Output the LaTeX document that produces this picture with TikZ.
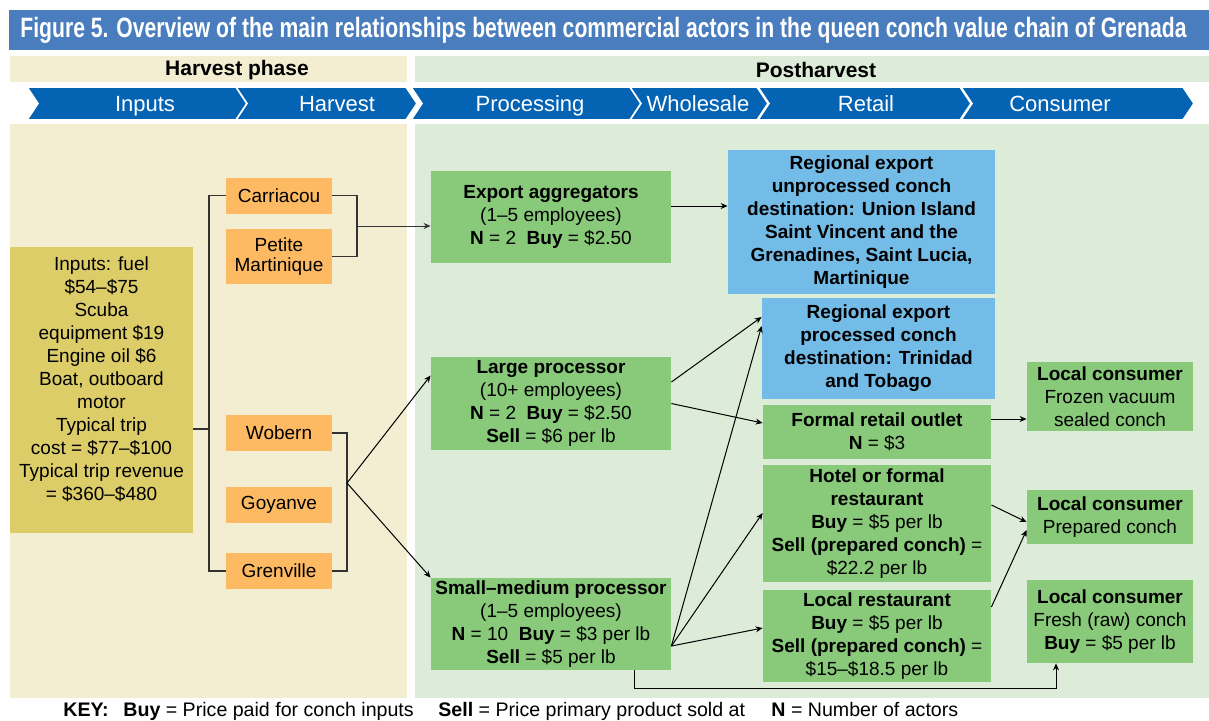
\documentclass[tikz,border=0pt]{standalone}
\usepackage{fontspec}
\setmainfont{Liberation Sans}
\newfontfamily\titlefont[FakeStretch=0.755]{Liberation Sans}
\usetikzlibrary{arrows.meta}

\definecolor{titleblue}{HTML}{4A7DBE}
\definecolor{chevblue}{HTML}{0563B4}
\definecolor{harvbg}{HTML}{F3EED2}
\definecolor{postbg}{HTML}{DCECD8}
\definecolor{inputolive}{HTML}{DCCD69}
\definecolor{siteorange}{HTML}{FDBA63}
\definecolor{actorgreen}{HTML}{88C97A}
\definecolor{exportblue}{HTML}{74BCE8}

\begin{document}
\begin{tikzpicture}[
    x=0.5pt, y=-0.5pt,
    >={Stealth[length=3.5pt,width=3pt]},
    every node/.style={font=\fontsize{9.5}{11.5}\selectfont, inner sep=0pt},
    inputbox/.style={fill=inputolive, align=center,
        minimum width=91.5pt, minimum height=143pt},
    sitebox/.style={fill=siteorange, align=center,
        minimum width=53pt, minimum height=18pt},
    procbox/.style={fill=actorgreen, align=center,
        minimum width=120pt, minimum height=46pt},
    exportbox/.style={fill=exportblue, align=center,
        font=\fontsize{9.5}{11.5}\selectfont\bfseries},
    retailbox/.style={fill=actorgreen, align=center, minimum width=114pt},
    consbox/.style={fill=actorgreen, align=center, minimum width=83pt},
    chevron/.style={fill=chevblue, draw=white, line width=0.8pt},
    bracket/.style={draw=black!80, line width=0.7pt},
    arr/.style={->, line width=0.5pt}
]
    \useasboundingbox (0,0) rectangle (1209,720);

    % Title bar
    \fill[titleblue] (9,10) rectangle (1209,50);
    \node[anchor=west, text=white,
        font=\titlefont\bfseries\fontsize{14}{16}\selectfont] (title) at (20,30)
        {Figure 5. Overview of the main relationships between commercial actors in the queen conch value chain of Grenada};

    % Phase headers
    \fill[harvbg] (10,56) rectangle (407,82);
    \fill[postbg] (415,56) rectangle (1209,82);
    \node[font=\fontsize{10.5}{12}\selectfont\bfseries] (hphase) at (237,70) {Harvest phase};
    \node[font=\fontsize{10.5}{12}\selectfont\bfseries] (pphase) at (816,70) {Postharvest};

    % Value chain stages
    \foreach \xa/\xb/\xl/\lbl [count=\i] in {27/236/145/Inputs, 236/406/337/Harvest,
        411/630/530/Processing, 630/757/698/Wholesale, 758/960/866/Retail,
        961/1183/1060/Consumer}{
        \draw[chevron] (\xa,87) -- (\xb,87) -- (\xb+11,103.5) -- (\xb,120)
            -- (\xa,120) -- (\xa+11,103.5) -- cycle;
        \node[anchor=base, text=white, font=\fontsize{11}{13}\selectfont] (stage\i)
            at (\xl,111) {\lbl};
    }

    % Panels
    \fill[harvbg] (10,124) rectangle (407,698);
    \fill[postbg] (415,124) rectangle (1209,698);

    % Harvest phase
    \node[inputbox] (inputs) at (101.5,390)
        {Inputs: fuel\\ \$54–\$75\\ Scuba\\ equipment \$19\\ Engine oil \$6\\
         Boat, outboard\\ motor\\ Typical trip\\ cost = \$77–\$100\\
         Typical trip revenue\\ = \$360–\$480\\ \mbox{}};

    \node[sitebox] (carr) at (279,195.5) {Carriacou};
    \node[sitebox, minimum height=27.5pt, font=\fontsize{9.5}{10}\selectfont] (petite)
        at (279,256.5) {Petite\\ Martinique};
    \node[sitebox] (wob) at (279,433) {Wobern};
    \node[sitebox] (goy) at (279,505) {Goyanve};
    \node[sitebox] (gren) at (279,571) {Grenville};

    % Processing
    \node[procbox] (expagg) at (551,217)
        {\textbf{Export aggregators}\\ (1–5 employees)\\
         \textbf{N} = 2\ \ \textbf{Buy} = \$2.50};
    \node[procbox, minimum height=46.5pt] (lproc) at (551,403.5)
        {\textbf{Large processor}\\ (10+ employees)\\
         \textbf{N} = 2\ \ \textbf{Buy} = \$2.50\\ \textbf{Sell} = \$6 per lb};
    \node[procbox] (smproc) at (551,624)
        {\textbf{Small–medium processor}\\ (1–5 employees)\\
         \textbf{N} = 10\ \ \textbf{Buy} = \$3 per lb\\ \textbf{Sell} = \$5 per lb};

    % Export destinations
    \node[exportbox, minimum width=133.5pt, minimum height=72pt] (unproc) at (861.5,222)
        {Regional export\\ unprocessed conch\\ destination: Union Island\\
         Saint Vincent and the\\ Grenadines, Saint Lucia,\\ Martinique};
    \node[exportbox, minimum width=116.5pt, minimum height=50.5pt] (proc) at (878.5,348.5)
        {Regional export\\ processed conch\\ destination: Trinidad\\ and Tobago};

    % Retail
    \node[retailbox, minimum height=27pt] (formal) at (877,432)
        {\textbf{Formal retail outlet}\\ \textbf{N} = \$3};
    \node[retailbox, minimum height=58.5pt] (hotel) at (877,523.5)
        {\textbf{Hotel or formal}\\ \textbf{restaurant}\\ \textbf{Buy} = \$5 per lb\\
         \textbf{Sell (prepared conch)} =\\ \$22.2 per lb};
    \node[retailbox, minimum height=46pt] (locrest) at (877,636)
        {\textbf{Local restaurant}\\ \textbf{Buy} = \$5 per lb\\
         \textbf{Sell (prepared conch)} =\\ \$15–\$18.5 per lb};

    % Consumers
    \node[consbox, minimum height=34.5pt] (frozen) at (1110,396.5)
        {\textbf{Local consumer}\\ Frozen vacuum\\ sealed conch};
    \node[consbox, minimum height=27pt] (prepared) at (1110,517)
        {\textbf{Local consumer}\\ Prepared conch};
    \node[consbox, minimum height=41.5pt] (fresh) at (1110,621.5)
        {\textbf{Local consumer}\\ Fresh (raw) conch\\ \textbf{Buy} = \$5 per lb};

    % Harvest connectors
    \coordinate (j0) at (209,429);
    \draw[bracket] (carr.west) -| (j0) |- (gren.west);
    \draw[bracket] (j0 -| inputs.east) -- (j0);
    \coordinate (j1) at (357,226);
    \draw[bracket] (carr.east) -| (j1) |- (petite.east);
    \draw[arr, draw=black!80] (j1) -- (j1 -| expagg.west);
    \coordinate (j2) at (347,483);
    \draw[bracket] (wob.east) -| (j2) |- (gren.east);
    \draw[arr] (j2) -- ([yshift=14pt]lproc.west);
    \draw[arr] (j2) -- (smproc.north west);

    % Postharvest connectors
    \draw[arr] ([yshift=5.5pt]expagg.east) -- ([yshift=5.5pt]expagg.east -| unproc.west);
    \draw[arr] ([yshift=10.75pt]lproc.east) -- ([yshift=15.75pt]proc.west);
    \draw[arr] (lproc.east) -- ([yshift=4.5pt]formal.west);
    \draw[arr] ([yshift=-11pt]smproc.east) -- ([yshift=11.25pt]proc.west);
    \draw[arr] ([yshift=-11pt]smproc.east) -- ([yshift=5.25pt]hotel.west);
    \draw[arr] ([yshift=-11pt]smproc.east) -- ([yshift=4pt]locrest.west);
    \draw[arr] ([yshift=6.5pt]formal.east) -- ([yshift=6.5pt]formal.east -| frozen.west);
    \draw[arr] ([yshift=9.25pt]hotel.east) -- ([yshift=-2.5pt]prepared.west);
    \draw[arr] ([yshift=14.5pt]locrest.east) -- ([yshift=-6.5pt]prepared.west);
    \coordinate (low) at (1056,688);
    \draw[arr] ([xshift=41.5pt]smproc.south) |- (low) -- ([xshift=-27pt]fresh.south);

    % Key
    \node[anchor=base west, font=\fontsize{9.8}{11}\selectfont\bfseries] (key) at (63,716) {KEY:};
    \node[anchor=base west, font=\fontsize{9.8}{11}\selectfont] (keybuy) at (123,716)
        {\textbf{Buy} = Price paid for conch inputs};
    \node[anchor=base west, font=\fontsize{9.8}{11}\selectfont] (keysell) at (438,716)
        {\textbf{Sell} = Price primary product sold at};
    \node[anchor=base west, font=\fontsize{9.8}{11}\selectfont] (keyn) at (771,716)
        {\textbf{N} = Number of actors};
\end{tikzpicture}
\end{document}
